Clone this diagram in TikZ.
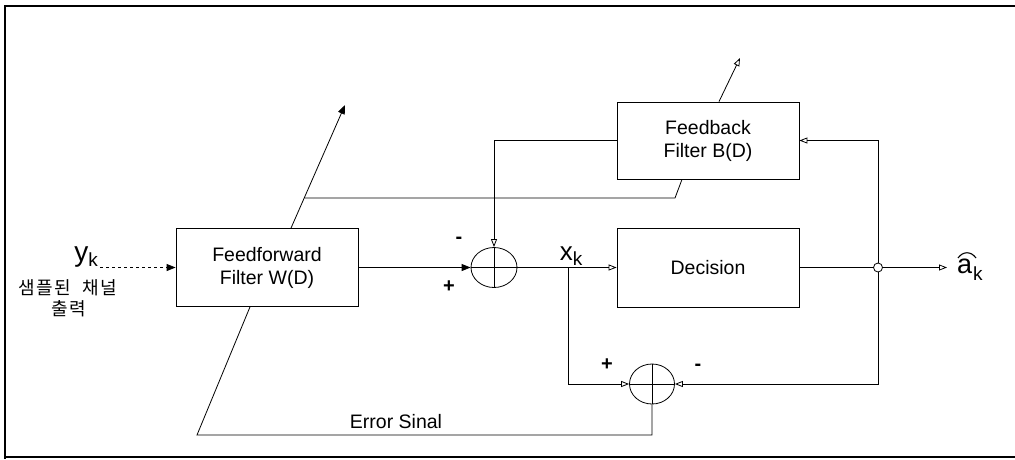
\documentclass[tikz,border=0pt]{standalone}
\usepackage{fontspec}
\setmainfont{Liberation Sans}
\newfontfamily\kr[LetterSpace=8]{Noto Sans CJK KR}
\usetikzlibrary{arrows.meta,shapes.geometric,calc}
\begin{document}
\begin{tikzpicture}[x=1pt,y=-1pt,
  every node/.style={font=\fontsize{19.5}{23}\selectfont},
  blk/.style={draw,line width=0.8pt,minimum width=182pt,minimum height=78pt,inner sep=0pt,align=center},
  adder/.style={draw,ellipse,line width=0.8pt,minimum width=46pt,minimum height=40pt,inner sep=0pt},
  ln/.style={line width=0.8pt},
  farrow/.style={ln,-{Triangle[length=9pt,width=7pt]}},
  oarrow/.style={ln,-{Triangle[open,length=8pt,width=6pt]}},
  sgn/.style={font=\fontsize{20}{22}\selectfont\bfseries}]
\useasboundingbox (0,0) rectangle (1015,459);
% frame
\draw[line width=1.5pt] (1015,6) -- (5,6) -- (5,459);
\draw[line width=1.5pt] (5,457) -- (1015,457);
% blocks
\node[blk] (ff) at (267,267.5) {Feedforward\\Filter W(D)};
\node[blk,minimum height=77pt] (fb) at (708,140.5) {Feedback\\Filter B(D)};
\node[blk,minimum height=79pt] (dec) at (708,267.5) {Decision};
\node[adder] (add1) at (494,267.5) {};
\node[adder,minimum width=45pt] (add2) at (652,384) {};
\draw[ln] (add1.north) -- (add1.south) (add1.west) -- (add1.east);
\draw[ln] (add2.north) -- (add2.south) (add2.west) -- (add2.east);
\node[circle,draw,ln,minimum size=9pt,inner sep=0pt] (jn) at (878,267.5) {};
% coordinates
\coordinate (yin) at (100,267.5);
\coordinate (xb) at (568,267.5);
\coordinate (out) at (947,267.5);
\coordinate (ffad) at (345,105);
\coordinate (fbad) at (740,58);
\coordinate (fbk) at (675,198);
\coordinate (fbm) at (304.5,198);
\coordinate (e1) at (197,435);
% labels
\node[inner sep=0pt] (ylab) at (86,257) {{\fontsize{28}{28}\selectfont y}\raisebox{-5pt}{\fontsize{19}{19}\selectfont k}};
\node[inner sep=0pt] (kr1) at (68,288) {\kr\fontsize{18}{20}\selectfont 샘플된 \ 채널};
\node[inner sep=0pt] (kr2) at (69,309) {\kr\fontsize{18}{20}\selectfont 출력};
\node[inner sep=0pt] (xlab) at (571,256) {{\fontsize{26}{26}\selectfont x}\raisebox{-5pt}{\fontsize{19}{19}\selectfont k}};
\node[inner sep=0pt,anchor=west] (alab) at (957,270) {{\fontsize{27}{27}\selectfont a}\kern1pt\raisebox{-7pt}{\fontsize{19}{19}\selectfont k}};
% hat over a
\draw[line width=1.1pt] (958,258) .. controls (963,251) and (971,251) .. (976,258);
\node[sgn,inner sep=0pt] (m1) at (459,240) {-};
\node[sgn,inner sep=0pt] (p1) at (449,287) {+};
\node[sgn,inner sep=0pt] (p2) at (607,365) {+};
\node[sgn,inner sep=0pt] (m2) at (698,367) {-};
\node[inner sep=0pt] (err) at (396,422) {Error Sinal};
% connectors
\draw[farrow,dashed] (yin) -- (ff.west);
\draw[farrow] (ff.east) -- (add1.west);
\draw[oarrow] (fb.west) -| (add1.north);
\draw[oarrow] (add1.east) -- (dec.west);
\draw[oarrow] (xb) |- (add2.west);
\draw[ln] (dec.east) -- (jn.west);
\draw[oarrow] (jn.east) -- (out);
\draw[oarrow] (jn.north) |- (fb.east);
\draw[oarrow] (jn.south) |- (add2.east);
\draw[ln] (add2.south) |- (e1) -- ([xshift=-17pt]ff.south);
\draw[farrow] ([xshift=24pt]ff.north) -- (ffad);
\draw[oarrow] ([xshift=11pt]fb.north) -- (fbad);
\draw[ln] ([xshift=-26pt]fb.south) -- (fbk) -- (fbm);
\end{tikzpicture}
\end{document}
